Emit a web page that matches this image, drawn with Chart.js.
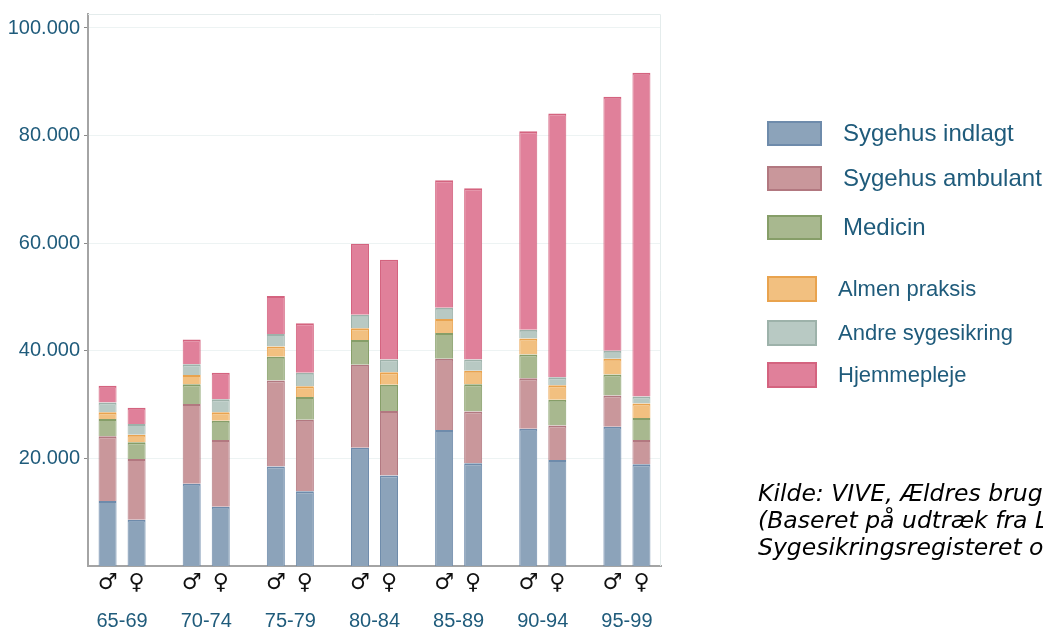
<!DOCTYPE html>
<html>
<head>
<meta charset="utf-8">
<script src="https://cdn.jsdelivr.net/npm/chart.js@4.4.1/dist/chart.umd.min.js"></script>
<style>
html, body { margin: 0; padding: 0; background: #fff; }
#wrap { position: relative; width: 1043px; height: 631px; overflow: hidden; }
#chart { position: absolute; left: 0; top: 0; }
#legend { position: absolute; left: 767px; top: 0; font-family: "Liberation Sans", Arial, sans-serif; color: #1f5b7b; }
.row { position: absolute; left: 0; height: 30px; display: flex; align-items: center; white-space: nowrap; }
.box { box-sizing: border-box; border: 2px solid; flex: none; }
#source { position: absolute; left: 758px; top: 480px; font-family: "DejaVu Sans", Verdana, sans-serif; font-style: italic;
  font-size: 23.5px; line-height: 26.8px; color: #000; white-space: nowrap; }
</style>
</head>
<body>
<div id="wrap">
  <canvas id="chart" width="1043" height="631"></canvas>
  <div id="legend"></div>
  <div id="source"></div>
</div>
<script>
// age groups, one pair of bars (men, women) for each
const ageGroups = ['65-69', '70-74', '75-79', '80-84', '85-89', '90-94', '95-99'];
const sexSymbols = ['\u2642', '\u2640'];
const seriesNames = ['Sygehus indlagt', 'Sygehus ambulant', 'Medicin', 'Almen praksis', 'Andre sygesikring', 'Hjemmepleje'];

// men
const menIndlagt   = [12100, 15300, 18500, 22000, 25300, 25500, 25900];
const menAmbulant  = [12000, 14800, 16000, 15400, 13200,  9400,  5800];
const menMedicin   = [ 3200,  3700,  4400,  4600,  4800,  4400,  3900];
const menAlmen     = [ 1300,  1700,  1900,  2200,  2600,  3000,  2900];
const menAndre     = [ 1800,  2000,  2300,  2500,  2100,  1600,  1500];
const menHjemme    = [ 3100,  4600,  7100, 13200, 23700, 36900, 47200];

// women
const womenIndlagt  = [ 8600, 11000, 13900, 16800, 19100, 19700, 18900];
const womenAmbulant = [11300, 12400, 13300, 12000,  9600,  6400,  4500];
const womenMedicin  = [ 3100,  3600,  4200,  4900,  5100,  4800,  4100];
const womenAlmen    = [ 1400,  1600,  2000,  2300,  2500,  2700,  2700];
const womenAndre    = [ 2000,  2400,  2500,  2400,  2100,  1500,  1300];
const womenHjemme   = [ 3000,  4900,  9200, 18500, 31800, 49000, 60200];

const yTicks = [20000, 40000, 60000, 80000, 100000];

const sourceLines = [
  'Kilde: VIVE, \u00c6ldres brug af sundhedsydelser',
  '(Baseret p\u00e5 udtr\u00e6k fra Landspatientregisteret,',
  'Sygesikringsregisteret og L\u00e6gemiddelstatistikregisteret)'
];

const fills   = ['#8ca3ba', '#c9979b', '#a8b88f', '#f2c080', '#b8c9c3', '#e0809a'];
const borders = ['#6e8bab', '#b27880', '#869e68', '#e9a34e', '#9db2aa', '#d4637f'];

const menSeries = [menIndlagt, menAmbulant, menMedicin, menAlmen, menAndre, menHjemme];
const womenSeries = [womenIndlagt, womenAmbulant, womenMedicin, womenAlmen, womenAndre, womenHjemme];

function makeSet(values, i, stack) {
  return {
    label: seriesNames[i],
    stack: stack,
    data: values.map((v, k) => ({x: k, y: v})),
    backgroundColor: fills[i],
    borderColor: borders[i],
    borderWidth: {top: 2, left: 1, right: 1, bottom: 0},
    borderSkipped: false,
    categoryPercentage: 0.69,
    barPercentage: 0.62
  };
}

const datasets = [];
menSeries.forEach((s, i) => datasets.push(makeSet(s, i, 'men')));
womenSeries.forEach((s, i) => datasets.push(makeSet(s, i, 'women')));

function dots(v) {
  return String(v).replace(/\B(?=(\d{3})+(?!\d))/g, '.');
}

// light frame on top and right of the plot
const framePlugin = {
  id: 'frame',
  beforeDatasetsDraw(chart) {
    const a = chart.chartArea, ctx = chart.ctx;
    ctx.save();
    ctx.strokeStyle = '#e4ecec';
    ctx.lineWidth = 1;
    ctx.beginPath();
    ctx.moveTo(a.left, a.top + 0.5);
    ctx.lineTo(a.right - 0.5, a.top + 0.5);
    ctx.lineTo(a.right - 0.5, a.bottom);
    ctx.stroke();
    ctx.restore();
  }
};

// gender symbol under every bar
const sexPlugin = {
  id: 'sexes',
  afterDatasetsDraw(chart) {
    const ctx = chart.ctx;
    const y = chart.chartArea.bottom + 17;
    ctx.save();
    ctx.fillStyle = '#111';
    ctx.font = '22px "DejaVu Sans", sans-serif';
    ctx.textAlign = 'center';
    ctx.textBaseline = 'middle';
    [0, menSeries.length].forEach((dsIndex, s) => {
      chart.getDatasetMeta(dsIndex).data.forEach(bar => {
        ctx.fillText(sexSymbols[s], bar.x, y);
      });
    });
    ctx.restore();
  }
};

new Chart(document.getElementById('chart'), {
  type: 'bar',
  data: {datasets: datasets},
  plugins: [framePlugin, sexPlugin],
  options: {
    responsive: false,
    animation: false,
    layout: {padding: {top: 11, right: 382, left: 0, bottom: 0}},
    plugins: {legend: {display: false}, tooltip: {enabled: false}},
    scales: {
      x: {
        type: 'linear',
        stacked: true,
        offset: false,
        min: -0.405,
        max: ageGroups.length - 1 + 0.405,
        afterBuildTicks: s => { s.ticks = ageGroups.map((_, i) => ({value: i})); },
        afterFit: s => { s.height = 65; },
        // invisible long tick marks push the age labels down
        grid: {display: true, drawOnChartArea: false, color: 'rgba(0,0,0,0)', tickLength: 43},
        border: {display: true, color: '#a4a4a4', width: 2},
        ticks: {
          padding: 0,
          color: '#1f5b7b',
          font: {family: '"Liberation Sans", Arial, sans-serif', size: 20},
          callback: v => ageGroups[v]
        }
      },
      y: {
        stacked: true,
        min: 0,
        max: 102600,
        afterBuildTicks: s => { s.ticks = yTicks.map(v => ({value: v})); },
        afterFit: s => { s.width = 88; },
        grid: {color: '#edf3f3', lineWidth: 1, tickLength: 4, tickColor: '#8a8a8a'},
        border: {display: true, color: '#a4a4a4', width: 2},
        ticks: {
          padding: 4,
          color: '#1f5b7b',
          font: {family: '"Liberation Sans", Arial, sans-serif', size: 20, lineHeight: 1},
          callback: v => dots(v)
        }
      }
    }
  }
});

// legend, built from the series names
const rowCenters = [133, 178, 227, 289, 333, 375];
const legend = document.getElementById('legend');
seriesNames.forEach((name, i) => {
  const big = i < 3;
  const row = document.createElement('div');
  row.className = 'row';
  row.style.top = (rowCenters[i] - 15) + 'px';
  row.style.fontSize = big ? '24px' : '22px';
  const box = document.createElement('div');
  box.className = 'box';
  box.style.width = big ? '55px' : '50px';
  box.style.height = big ? '25px' : '26px';
  box.style.marginRight = '21px';
  box.style.background = fills[i];
  box.style.borderColor = borders[i];
  const txt = document.createElement('span');
  txt.textContent = name;
  row.appendChild(box);
  row.appendChild(txt);
  legend.appendChild(row);
});

const source = document.getElementById('source');
sourceLines.forEach(line => {
  const d = document.createElement('div');
  d.textContent = line;
  source.appendChild(d);
});
</script>
</body>
</html>
